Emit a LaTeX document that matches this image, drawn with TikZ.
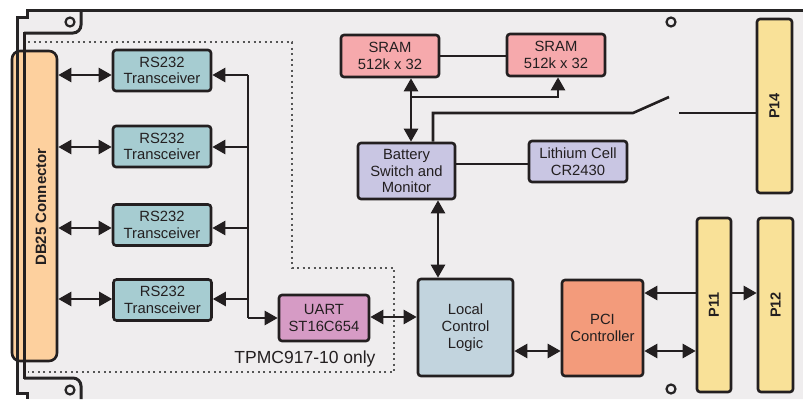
\documentclass[tikz,border=0pt]{standalone}
\usepackage{fontspec}
\setmainfont{Liberation Sans}
\usetikzlibrary{arrows.meta}
\definecolor{boardc}{HTML}{EFEDEE}
\definecolor{linec}{HTML}{231F20}
\definecolor{edgec}{HTML}{262425}
\definecolor{rsc}{HTML}{A6CCD1}
\definecolor{sramc}{HTML}{F6A9AC}
\definecolor{batc}{HTML}{C9C6E3}
\definecolor{uartc}{HTML}{D69BC5}
\definecolor{lclc}{HTML}{C2D4DE}
\definecolor{pcic}{HTML}{F39B7B}
\definecolor{pc}{HTML}{F9E198}
\definecolor{dbc}{HTML}{FDD09E}
\definecolor{dotc}{HTML}{555555}
\begin{document}
\begin{tikzpicture}[x=1pt,y=-1pt,
  box/.style={draw=linec, line width=2.6pt, rounded corners=3pt, inner sep=0pt,
    align=center, text=linec, font=\fontsize{14.8pt}{16.7pt}\selectfont},
  conbox/.style={draw=linec, line width=2.6pt, rounded corners=3pt, inner sep=0pt,
    fill=pc, text=linec},
  conlabel/.style={rotate=90, text=linec, font=\fontsize{14.5pt}{16pt}\selectfont\bfseries},
  ln/.style={draw=linec, line width=2.6pt},
  arr/.style={ln, -{Triangle[length=13pt,width=14pt]}},
  dbl/.style={ln, {Triangle[length=13pt,width=14pt]}-{Triangle[length=13pt,width=14pt]}},
  edge/.style={draw=edgec, line width=3pt},
  dotline/.style={draw=dotc, line width=1.3pt, dash pattern=on 2pt off 3.5pt}
]
\useasboundingbox (0,0) rectangle (803,399);
\fill[white] (0,0) rectangle (803,399);
% board
\fill[boardc] (17,17) -- (27,17) -- (27,10) -- (803,10) -- (803,399) -- (27,399) -- (27,393) -- (17,393) -- cycle;
% DB25 connector
\node[draw=linec, line width=2.6pt, rounded corners=8pt, fill=dbc, minimum width=45pt, minimum height=310pt, inner sep=0pt] (db) at (34.5,206) {};
\node[rotate=90, text=linec, font=\fontsize{15pt}{17pt}\selectfont\bfseries] (dbt) at (41,207) {DB25 Connector};
% board outline
\draw[edge] (803,10) -- (27,10) -- (27,17) -- (17,17) -- (17,393) -- (27,393) -- (27,399);
\draw[edge, rounded corners=8pt] (24,33) -- (81,33) -- (81,10);
\draw[edge, rounded corners=8pt] (24,378) -- (81,378) -- (81,399);
\draw[draw=linec, line width=3.5pt] (24.5,32) -- (24.5,379);
\draw[edge, line width=2.2pt] (70,22) circle[radius=4.5pt];
\draw[edge, line width=2.2pt] (70,390) circle[radius=4.5pt];
\draw[edge, line width=2.2pt] (671,22) circle[radius=4.5pt];
\draw[edge, line width=2.2pt] (671,389) circle[radius=4.5pt];
% dotted region
\draw[dotline] (28,42) -- (292,42) -- (292,268) -- (394,268) -- (394,372) -- (28,372);
\node[anchor=base, text=linec, font=\fontsize{17.5pt}{20pt}\selectfont] (tp) at (305,363) {TPMC917-10 only};
% blocks
\node[box, fill=rsc, minimum width=98pt, minimum height=41pt] (rs1) at (162,70.5) {RS232\\Transceiver};
\node[box, fill=rsc, minimum width=98pt, minimum height=41pt] (rs2) at (162,146.5) {RS232\\Transceiver};
\node[box, fill=rsc, minimum width=98pt, minimum height=41pt] (rs3) at (162,225) {RS232\\Transceiver};
\node[box, fill=rsc, minimum width=98pt, minimum height=41pt] (rs4) at (162.5,300) {RS232\\Transceiver};
\node[box, fill=uartc, minimum width=90pt, minimum height=46pt] (uart) at (324,318) {UART\\ST16C654};
\node[box, fill=sramc, minimum width=98pt, minimum height=42pt] (sram1) at (390,56) {SRAM\\512k x 32};
\node[box, fill=sramc, minimum width=98pt, minimum height=42pt] (sram2) at (556,55) {SRAM\\512k x 32};
\node[box, fill=batc, minimum width=97pt, minimum height=56pt] (bat) at (406.5,171) {Battery\\Switch and\\Monitor};
\node[box, fill=batc, minimum width=98pt, minimum height=41pt] (lith) at (578,161.5) {Lithium Cell\\CR2430};
\node[box, fill=lclc, minimum width=95pt, minimum height=97pt] (lcl) at (465.5,327.5) {Local\\Control\\Logic};
\node[box, fill=pcic, minimum width=81pt, minimum height=96pt] (pci) at (602.5,328) {PCI\\Controller};
\node[conbox, minimum width=35pt, minimum height=174pt] (p14) at (774.5,106) {};
\node[conlabel] (p14t) at (p14) {P14};
\node[conbox, minimum width=34pt, minimum height=174pt] (p11) at (714,305) {};
\node[conlabel] (p11t) at (p11) {P11};
\node[conbox, minimum width=35pt, minimum height=174pt] (p12) at (775.5,305) {};
\node[conlabel] (p12t) at (p12) {P12};
% bus coordinates
\coordinate (r1) at (248,75);
\coordinate (r2) at (248,147);
\coordinate (r3) at (248,228);
\coordinate (r4) at (248,299);
\coordinate (bb) at (248,318);
% DB25 to transceivers
\draw[dbl] (r1 -| db.east) -- (r1 -| rs1.west);
\draw[dbl] (r2 -| db.east) -- (r2 -| rs2.west);
\draw[dbl] (r3 -| db.east) -- (r3 -| rs3.west);
\draw[dbl] (r4 -| db.east) -- (r4 -| rs4.west);
% bus
\draw[ln] (r1) -- (bb);
\draw[arr] (r1) -- (r1 -| rs1.east);
\draw[arr] (r2) -- (r2 -| rs2.east);
\draw[arr] (r3) -- (r3 -| rs3.east);
\draw[arr] (r4) -- (r4 -| rs4.east);
\draw[arr] (bb) -- (bb -| uart.west);
% UART to LCL
\coordinate (ul) at (400,317);
\draw[dbl] (ul -| uart.east) -- (ul -| lcl.west);
% Battery to LCL
\coordinate (bl) at (438,240);
\draw[dbl] (bl |- bat.south) -- (bl |- lcl.north);
% SRAM links
\coordinate (sb) at (411,97);
\coordinate (sb2) at (558,97);
\draw[dbl] (sb |- sram1.south) -- (sb |- bat.north);
\draw[arr] (sb) -- (sb2) -- (sb2 |- sram2.south);
\draw[ln] (sram1.east) -- (sram1.east -| sram2.west);
% switch to P14
\coordinate (sw0) at (433,113);
\coordinate (sw1) at (633,113);
\coordinate (sw2) at (669,97);
\coordinate (sw3) at (679,113);
\draw[ln] (sw0 |- bat.north) -- (sw0) -- (sw1) -- (sw2);
\draw[ln] (sw3) -- (sw3 -| p14.west);
% battery to lithium
\coordinate (bli) at (490,164);
\draw[ln] (bli -| bat.east) -- (bli -| lith.west);
% LCL, PCI, P11, P12
\coordinate (lp) at (540,351);
\coordinate (pp) at (670,293);
\draw[dbl] (lp -| lcl.east) -- (lp -| pci.west);
\draw[dbl] (lp -| pci.east) -- (lp -| p11.west);
\draw[arr] (pp -| p11.west) -- (pp -| pci.east);
\draw[arr] (pp -| p11.east) -- (pp -| p12.west);
\end{tikzpicture}
\end{document}
